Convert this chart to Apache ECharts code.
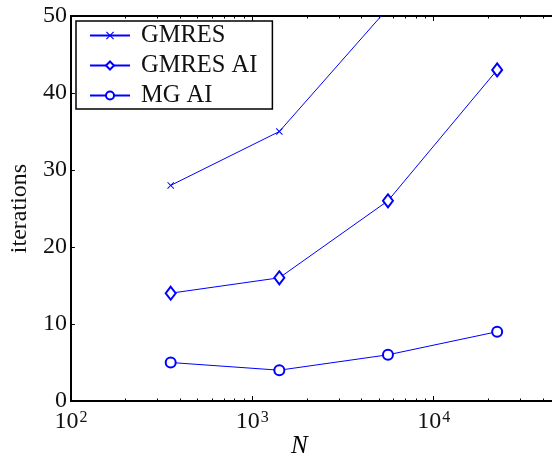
<!DOCTYPE html>
<html>
<head>
<meta charset="utf-8">
<script src="https://cdn.jsdelivr.net/npm/echarts@6/dist/echarts.min.js"></script>
<style>
  html, body { margin: 0; padding: 0; background: #fff; overflow: hidden; width: 552px; height: 461px; }
  #chart { width: 640px; height: 461px; }
</style>
</head>
<body>
<div id="chart"></div>
<script>
// Problem sizes N and iteration counts per solver
const sizes = [355, 1410, 5600, 22400];
const gmres = [28, 35, 51];
const gmresAI = [14, 16, 26, 43];
const mgAI = [5, 4, 6, 9];
const seriesNames = ['GMRES', 'GMRES AI', 'MG AI'];
const yTicks = { min: 0, max: 50, interval: 10 };
const xDecades = { min: 100, max: 100000 };

// minor tick positions (2..9 per decade), in log10 units
const minorTicks = [];
for (let d = 2; d < 5; d++) {
  for (let k = 2; k <= 9; k++) minorTicks.push(d + Math.log10(k));
}

const FONT = 'Liberation Serif';
const BLUE = '#0000ff';
const crossPath = 'path://M0,1L1,0L5,4L9,0L10,1L6,5L10,9L9,10L5,6L1,10L0,9L4,5Z';

const pairs = (vals) => vals.map((v, i) => [sizes[i], v]);

const chart = echarts.init(document.getElementById('chart'), null, { renderer: 'canvas' });

const frameLine = { show: true, onZero: false, lineStyle: { color: '#000', width: 2 } };

chart.setOption({
  animation: false,
  backgroundColor: '#fff',
  // the plot frame runs on past the visible page width (up to 10^5)
  grid: { left: 70, top: 16, bottom: 60, right: 25, containLabel: false },
  title: {
    text: 'N',
    left: 291,
    top: 434,
    padding: 0,
    textStyle: { fontFamily: FONT, fontStyle: 'italic', fontWeight: 'normal', fontSize: 25, color: '#000' }
  },
  legend: {
    orient: 'vertical',
    left: 76,
    top: 21,
    padding: [2, 15, 1, 13],
    itemGap: 5,
    itemWidth: 40,
    itemHeight: 10,
    borderColor: '#000',
    borderWidth: 1.5,
    borderRadius: 0,
    backgroundColor: '#fff',
    data: seriesNames,
    textStyle: { fontFamily: FONT, fontSize: 24.5, color: '#111', lineHeight: 23, padding: [0, 0, 0, 6] }
  },
  xAxis: [
    {
      type: 'log',
      logBase: 10,
      min: xDecades.min,
      max: xDecades.max,
      position: 'bottom',
      axisLine: frameLine,
      axisTick: { show: true, inside: true, length: 5, lineStyle: { color: '#000', width: 1 } },
      splitLine: { show: false },
      axisLabel: {
        margin: 9,
        formatter: (v) => '{b|10}{s|' + Math.round(Math.log10(v)) + '}',
        rich: {
          b: { fontFamily: FONT, fontSize: 24, color: '#111', verticalAlign: 'bottom' },
          s: { fontFamily: FONT, fontSize: 16, color: '#111', verticalAlign: 'top', padding: [0, 0, 8, 1] }
        }
      }
    },
    {
      type: 'log',
      logBase: 10,
      min: xDecades.min,
      max: xDecades.max,
      position: 'top',
      axisLine: frameLine,
      axisTick: { show: true, inside: true, length: 5, lineStyle: { color: '#000', width: 1 } },
      splitLine: { show: false },
      axisLabel: { show: false }
    },
    {
      type: 'value',
      min: 2,
      max: 5,
      position: 'bottom',
      axisLine: { show: false },
      splitLine: { show: false },
      axisLabel: { show: false },
      axisTick: { show: true, inside: true, length: 2.5, customValues: minorTicks, lineStyle: { color: '#000', width: 1 } }
    },
    {
      type: 'value',
      min: 2,
      max: 5,
      position: 'top',
      axisLine: { show: false },
      splitLine: { show: false },
      axisLabel: { show: false },
      axisTick: { show: true, inside: true, length: 2.5, customValues: minorTicks, lineStyle: { color: '#000', width: 1 } }
    }
  ],
  yAxis: {
    type: 'value',
    min: yTicks.min,
    max: yTicks.max,
    interval: yTicks.interval,
    name: 'iterations',
    nameLocation: 'middle',
    nameRotate: 90,
    nameGap: 37,
    nameTextStyle: { fontFamily: FONT, fontSize: 24, color: '#111' },
    axisLine: frameLine,
    axisTick: { show: true, inside: true, length: 4, lineStyle: { color: '#000', width: 1 } },
    splitLine: { show: false },
    axisLabel: { margin: 4, fontFamily: FONT, fontSize: 24, color: '#111' }
  },
  series: [
    {
      name: seriesNames[0],
      type: 'line',
      xAxisIndex: 0,
      data: pairs(gmres),
      clip: true,
      symbol: crossPath,
      symbolSize: 7,
      itemStyle: { color: BLUE },
      lineStyle: { color: BLUE, width: 1 }
    },
    {
      name: seriesNames[1],
      type: 'line',
      xAxisIndex: 0,
      data: pairs(gmresAI),
      clip: true,
      symbol: 'emptyDiamond',
      symbolSize: [10, 13],
      itemStyle: { color: BLUE, borderWidth: 1.2 },
      lineStyle: { color: BLUE, width: 1 }
    },
    {
      name: seriesNames[2],
      type: 'line',
      xAxisIndex: 0,
      data: pairs(mgAI),
      clip: true,
      symbol: 'emptyCircle',
      symbolSize: 10,
      itemStyle: { color: BLUE, borderWidth: 1.2 },
      lineStyle: { color: BLUE, width: 1 }
    }
  ]
});
</script>
</body>
</html>
